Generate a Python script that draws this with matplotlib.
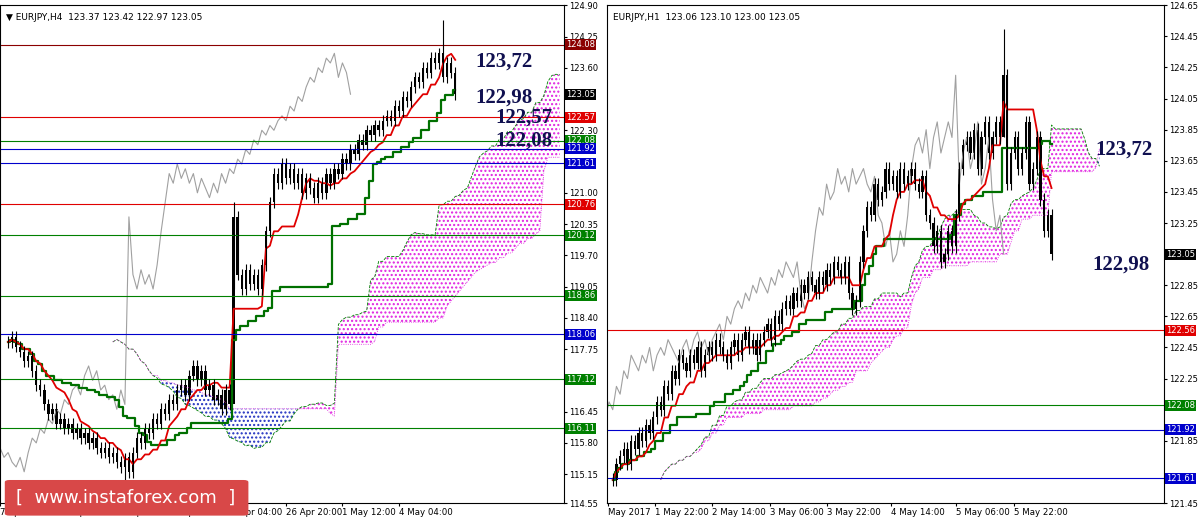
"""EURJPY H4 / H1 Ichimoku chart recreation."""

import numpy as np
import pandas as pd
import matplotlib
matplotlib.use("Agg")
from matplotlib import pyplot as plt
from matplotlib.patches import FancyBboxPatch
import matplotlib.transforms as mtransforms

# ---- left panel (H4) data ----
left_closes = [
    117.9, 118.0, 117.8, 117.7, 117.5, 117.6, 117.3, 117.0, 116.9, 116.6, 116.4, 116.5, 116.2, 116.3, 116.1, 116.2,
    116.0, 116.1, 115.9, 116.0, 115.8, 115.9, 115.7, 115.6, 115.7, 115.5, 115.6, 115.4, 115.3, 115.5, 115.2,
    115.6, 115.9, 115.8, 116.1, 116.0, 116.3, 116.2, 116.5, 116.4, 116.7, 116.6, 116.9, 117.0, 116.8, 117.2,
    117.4, 117.1, 117.3, 116.9, 117.0, 116.7, 116.8, 116.5, 116.9, 116.6,
    120.5, 119.3, 119.0, 119.4, 119.1, 119.3, 119.0, 119.5,
    120.2, 120.8, 121.4, 121.2, 121.6, 121.3, 121.5,
    121.2, 121.4, 121.0, 121.3, 121.1, 120.9, 121.2, 121.0, 121.4, 121.2,
    121.5, 121.4, 121.7, 121.6, 121.9, 121.8, 122.1, 122.0, 122.3, 122.2,
    122.4, 122.3, 122.5, 122.6, 122.5, 122.8, 122.7, 123.0, 122.9, 123.2,
    123.4, 123.3, 123.6, 123.5, 123.8, 123.7, 123.9, 123.4, 123.7, 123.5, 123.05,
]
left_spikes = {56: (120.8, 119.0), 29: (115.6, 114.9), 108: (124.6, 123.3)}
left_levels = [(124.08, "#8b0000"), (122.57, "#e00000"), (122.08, "#008000"), (121.92, "#0000cc"),
               (121.61, "#0000cc"), (120.76, "#e00000"), (120.12, "#008000"), (118.86, "#008000"),
               (118.06, "#0000cc"), (117.12, "#008000"), (116.11, "#008000")]
left_yticks = [124.90, 124.25, 123.60, 122.30, 121.00, 120.35, 119.70, 119.05, 118.40,
               117.75, 116.45, 115.80, 115.15, 114.55]
left_xlabels = ["7 Apr 2017", "12 Apr 04:00", "14 Apr 20:00", "19 Apr 12:00", "24 Apr 04:00",
                "26 Apr 20:00", "1 May 12:00", "4 May 04:00"]
left_notes = [("123,72", 123.72), ("122,98", 122.98), ("122,57", 122.57), ("122,08", 122.08)]

# ---- right panel (H1) data ----
right_closes = [
    121.6, 121.7, 121.75, 121.8, 121.7, 121.85, 121.8, 121.9, 121.85, 121.95, 121.9,
    122.0, 122.1, 122.05, 122.2, 122.15, 122.3, 122.25, 122.4, 122.35, 122.3, 122.4, 122.35, 122.45, 122.3, 122.4,
    122.45, 122.4, 122.5, 122.45, 122.4, 122.35, 122.45, 122.5, 122.4, 122.5, 122.55, 122.45, 122.5, 122.4, 122.5,
    122.55, 122.6, 122.5, 122.65, 122.6, 122.7, 122.75, 122.7, 122.8, 122.75, 122.85, 122.8, 122.9, 122.85, 122.8,
    122.9, 122.85, 122.95, 122.9, 123.0, 122.95, 122.9, 123.0, 122.8, 122.7, 122.75, 123.0, 123.2, 123.35, 123.3,
    123.5, 123.4, 123.45, 123.6, 123.5, 123.55, 123.45, 123.6, 123.5, 123.55, 123.6, 123.5, 123.45, 123.55, 123.3,
    123.25, 123.1, 123.2, 123.0, 123.05, 123.2, 123.1, 123.3, 123.6, 123.75, 123.8, 123.7, 123.85, 123.6, 123.8,
    123.9, 123.7, 123.8, 123.9, 123.8, 124.2, 123.5, 123.7, 123.8, 123.6, 123.7, 123.9, 123.5, 123.6, 123.8,
    123.4, 123.2, 123.3, 123.05,
]
right_spikes = {106: (124.5, 123.8)}
right_levels = [(122.56, "#e00000"), (122.08, "#008000"), (121.92, "#0000cc"), (121.61, "#0000cc")]
right_yticks = [124.65, 124.45, 124.25, 124.05, 123.85, 123.65, 123.45, 123.25, 122.85,
                122.65, 122.45, 122.25, 121.85, 121.45]
right_xlabels = ["May 2017", "1 May 22:00", "2 May 14:00", "3 May 06:00", "3 May 22:00",
                 "4 May 14:00", "5 May 06:00", "5 May 22:00"]
right_notes = [("123,72", 123.72), ("122,98", 122.98)]


def ohlc(closes, spikes, wick):
    c = np.array(closes)
    o = np.r_[c[0], c[:-1]]
    h = np.maximum(o, c) + wick
    l = np.minimum(o, c) - wick
    for i, (hi, lo) in spikes.items():
        h[i], l[i] = hi, lo
    return pd.DataFrame({"o": o, "h": h, "l": l, "c": c})


def draw_panel(ax, df, shift, ylim, xlim, yticks, xlabels, xtick_pos, levels, header, notes, note_x):
    n = len(df)
    x = np.arange(n)
    mid = lambda p: (df["h"].rolling(p, 1).max() + df["l"].rolling(p, 1).min()) / 2
    tenkan, kijun, b = mid(9), mid(26), mid(52)
    a = (tenkan + kijun) / 2
    xs = np.arange(n) + shift
    ax.fill_between(xs, a, b, where=a >= b, facecolor="none", edgecolor="#e020e0",
                    hatch="....", linewidth=0, interpolate=True)
    ax.fill_between(xs, a, b, where=a < b, facecolor="none", edgecolor="#2030c0",
                    hatch="....", linewidth=0, interpolate=True)
    ax.plot(xs, a, color="#008000", lw=0.6, ls="--")
    ax.plot(xs, b, color="#e020e0", lw=0.6, ls=":")
    ax.plot(x - shift, df["c"], color="#a0a0a0", lw=0.8)
    ax.plot(x, kijun, color="#007000", lw=1.6, drawstyle="steps-mid")
    ax.plot(x, tenkan, color="#e00000", lw=1.3)
    for y, col in levels:
        ax.axhline(y, color=col, lw=0.8)
    ax.vlines(x, df["l"], df["h"], color="black", lw=0.8)
    body_lo = np.minimum(df["o"], df["c"])
    body_h = np.maximum(np.abs(df["c"] - df["o"]), (ylim[1] - ylim[0]) * 0.002)
    ax.bar(x, body_h, bottom=body_lo, width=0.6, color="black")

    ax.set_xlim(*xlim)
    ax.set_ylim(*ylim)
    ax.yaxis.tick_right()
    ax.set_yticks(yticks)
    ax.set_yticklabels([f"{v:.2f}" for v in yticks], fontsize=6)
    ax.set_xticks(xtick_pos)
    ax.set_xticklabels(xlabels, fontsize=6.2, ha="left")
    ax.tick_params(length=2, pad=1.5)
    trans = mtransforms.blended_transform_factory(ax.transAxes, ax.transData)
    for y, col in levels + [(df["c"].iloc[-1], "black")]:
        ax.text(1.004, y, f"{y:.2f}", transform=trans, fontsize=6, color="white", va="center",
                bbox=dict(boxstyle="square,pad=0.12", fc=col, ec="none"), clip_on=False)
    ax.text(0.01, 0.985, header, transform=ax.transAxes, fontsize=6.5, va="top")
    for i, (label, y) in enumerate(notes):
        ax.text(note_x[i], y, label, fontsize=15, fontweight="bold", family="Liberation Serif",
                color="#101050", va="center")


fig = plt.figure(figsize=(12, 5.24), dpi=100)
ax1 = fig.add_axes([0.0, 0.04, 0.470, 0.95])
ax2 = fig.add_axes([0.506, 0.04, 0.464, 0.95])

left = ohlc(left_closes, left_spikes, 0.12)
draw_panel(ax1, left, 26, (114.55, 124.90), (-1, 138), left_yticks, left_xlabels,
           [-2, 13, 27, 40, 54, 69, 83, 97], left_levels,
           "\u25bc EURJPY,H4  123.37 123.42 122.97 123.05", left_notes, [116, 116, 121, 121])

right = ohlc(right_closes, right_spikes, 0.04)
draw_panel(ax2, right, 13, (121.45, 124.65), (-1.5, 149.5), right_yticks, right_xlabels,
           [-1.4, 11.5, 27, 42.6, 58, 75.5, 93, 108.7], right_levels,
           "EURJPY,H1  123.06 123.10 123.00 123.05", right_notes, [131, 130])

box = FancyBboxPatch((0.008, 0.02), 0.195, 0.06, boxstyle="round,pad=0.004",
                     transform=fig.transFigure, fc="#d84848", ec="none")
fig.patches.append(box)
fig.text(0.105, 0.05, "[  www.instaforex.com  ]", color="white", fontsize=13,
         ha="center", va="center")

fig.savefig("out.png", dpi=100)
